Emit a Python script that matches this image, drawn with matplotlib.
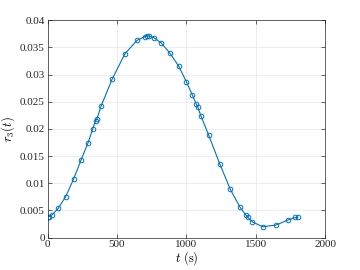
import matplotlib
matplotlib.use("Agg")
import matplotlib.pyplot as plt

# sample times (s) and r_3 values
t = [0, 10, 34, 77, 130, 188, 240, 291, 325, 346, 356, 387, 464, 556, 644,
     702, 717, 731, 765, 819, 879, 943, 999, 1043, 1070, 1080, 1104, 1159,
     1239, 1315, 1385, 1426, 1443, 1474, 1549, 1643, 1727, 1784, 1799]
r3 = [0.0038, 0.00386, 0.0042, 0.0054, 0.0075, 0.0108, 0.0142, 0.0174,
      0.0200, 0.0215, 0.0219, 0.0243, 0.0291, 0.0338, 0.0363, 0.0370,
      0.0371, 0.0371, 0.0368, 0.0358, 0.0340, 0.0316, 0.0287, 0.0262,
      0.0246, 0.0241, 0.0224, 0.0189, 0.0136, 0.0089, 0.0056, 0.0042,
      0.0037, 0.0029, 0.0020, 0.0023, 0.0032, 0.0037, 0.0037]

xticks = [0, 500, 1000, 1500, 2000]
yticks = [0, 0.005, 0.01, 0.015, 0.02, 0.025, 0.03, 0.035, 0.04]
ytick_labels = ["0", "0.005", "0.01", "0.015", "0.02", "0.025", "0.03", "0.035", "0.04"]

plt.rcParams["font.family"] = ["Liberation Serif", "DejaVu Serif"]
plt.rcParams["mathtext.fontset"] = "cm"

fig = plt.figure(figsize=(3.6, 2.7), dpi=100)
ax = fig.add_axes([0.132, 0.120, 0.772, 0.805])

blue = (0.0, 0.447, 0.741)
ax.plot(t, r3, "-o", color=blue, lw=0.8, markersize=3.3,
        markerfacecolor="none", markeredgewidth=0.7)

ax.set_xlim(0, 2000)
ax.set_ylim(0, 0.04)
ax.set_xticks(xticks)
ax.set_xticklabels([str(v) for v in xticks])
ax.set_yticks(yticks)
ax.set_yticklabels(ytick_labels)
ax.tick_params(direction="in", length=3, width=0.5, labelsize=8,
               top=True, right=True, colors="0.15", pad=2)
ax.grid(True, color="0.9", lw=0.5)
for s in ax.spines.values():
    s.set_linewidth(0.5)
    s.set_color("0.15")

ax.set_xlabel(r"$t\ \mathrm{(s)}$", fontsize=9, labelpad=0)
ax.set_ylabel(r"$r_3(t)$", fontsize=9, labelpad=2)

fig.savefig("out.png", dpi=100)
